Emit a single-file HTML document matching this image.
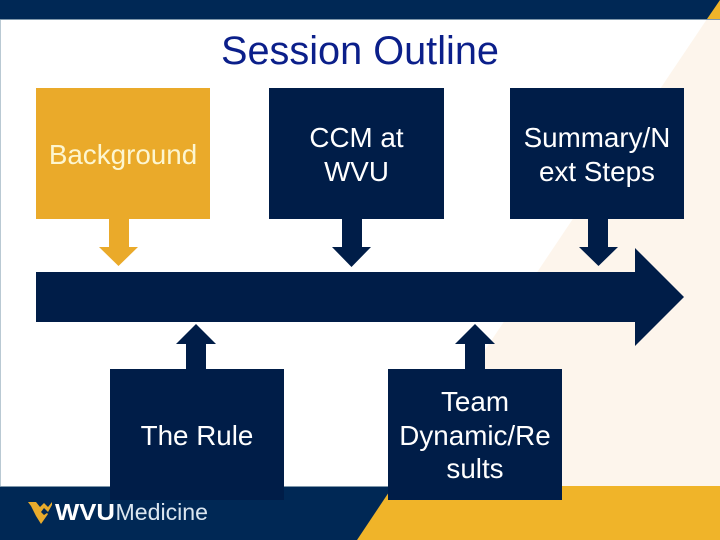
<!DOCTYPE html>
<html><head><meta charset="utf-8"><style>
html,body{margin:0;padding:0;background:#fff}
svg{display:block}
text{font-family:"Liberation Sans",sans-serif}
</style></head><body>
<svg xmlns="http://www.w3.org/2000/svg" width="720" height="540" viewBox="0 0 720 540">
<rect width="720" height="540" fill="#fff"/>
<rect x="0" y="19" width="1" height="468" fill="#b9c9d3"/>
<polygon points="707,19 720,19 720,487 393,487" fill="#fdf5ec"/>
<rect x="0" y="0" width="720" height="19" fill="#002855"/>
<rect x="0" y="19" width="720" height="1" fill="#7f97aa"/>
<polygon points="707,19 720,0 720,19" fill="#f0b429"/>
<rect x="0" y="487" width="720" height="53" fill="#002855"/>
<rect x="0" y="486" width="720" height="1" fill="#7f97aa"/>
<polygon points="357,540 393,486 720,486 720,540" fill="#f0b429"/>
<text x="360" y="64" font-size="40" fill="#0b1f8a" text-anchor="middle" textLength="278" lengthAdjust="spacingAndGlyphs">Session Outline</text>

<rect x="36" y="88" width="174" height="131" fill="#eaaa2a"/>
<polygon points="109,219 129,219 129,247 138,247 118.500,266 99,247 109,247" fill="#eaaa2a"/>
<rect x="269" y="88" width="175" height="131" fill="#001d48"/>
<polygon points="342,219 362,219 362,247 371,247 351.500,267 332,247 342,247" fill="#001d48"/>
<rect x="510" y="88" width="174" height="131" fill="#001d48"/>
<polygon points="588,219 608,219 608,247 618,247 598.500,266 579,247 588,247" fill="#001d48"/>
<polygon points="36,272 635,272 635,248 684,297 635,346 635,322 36,322" fill="#001d48"/>
<rect x="110" y="369" width="174" height="131" fill="#001d48"/>
<polygon points="186,369 206,369 206,344 216,344 196,324 176,344 186,344" fill="#001d48"/>
<rect x="388" y="369" width="174" height="131" fill="#001d48"/>
<polygon points="465,369 485,369 485,344 495,344 475,324 455,344 465,344" fill="#001d48"/>

<g font-size="27.800" text-anchor="middle" fill="#fff">
<text x="123" y="164" fill="#fdf6d0">Background</text>
<text x="356.500" y="147">CCM at</text>
<text x="356.500" y="181">WVU</text>
<text x="597" y="147">Summary/N</text>
<text x="597" y="181">ext Steps</text>
<text x="197" y="445">The Rule</text>
<text x="475" y="411">Team</text>
<text x="475" y="445">Dynamic/Re</text>
<text x="475" y="478">sults</text>
</g>

<polygon points="28,502 36,502 40,507 44,503 48,507 52,502 52,505 48,512 44,508 41,512 44,515 47,513 48,514 41,524 36,516 33,510 31,506" fill="#e8ab2c"/>
<text x="55" y="520" font-size="23" font-weight="bold" fill="#fff" textLength="60" lengthAdjust="spacingAndGlyphs">WVU</text>
<text x="115.500" y="520" font-size="23" fill="#dbe6ef" textLength="92.500" lengthAdjust="spacingAndGlyphs">Medicine</text>
</svg>
</body></html>
